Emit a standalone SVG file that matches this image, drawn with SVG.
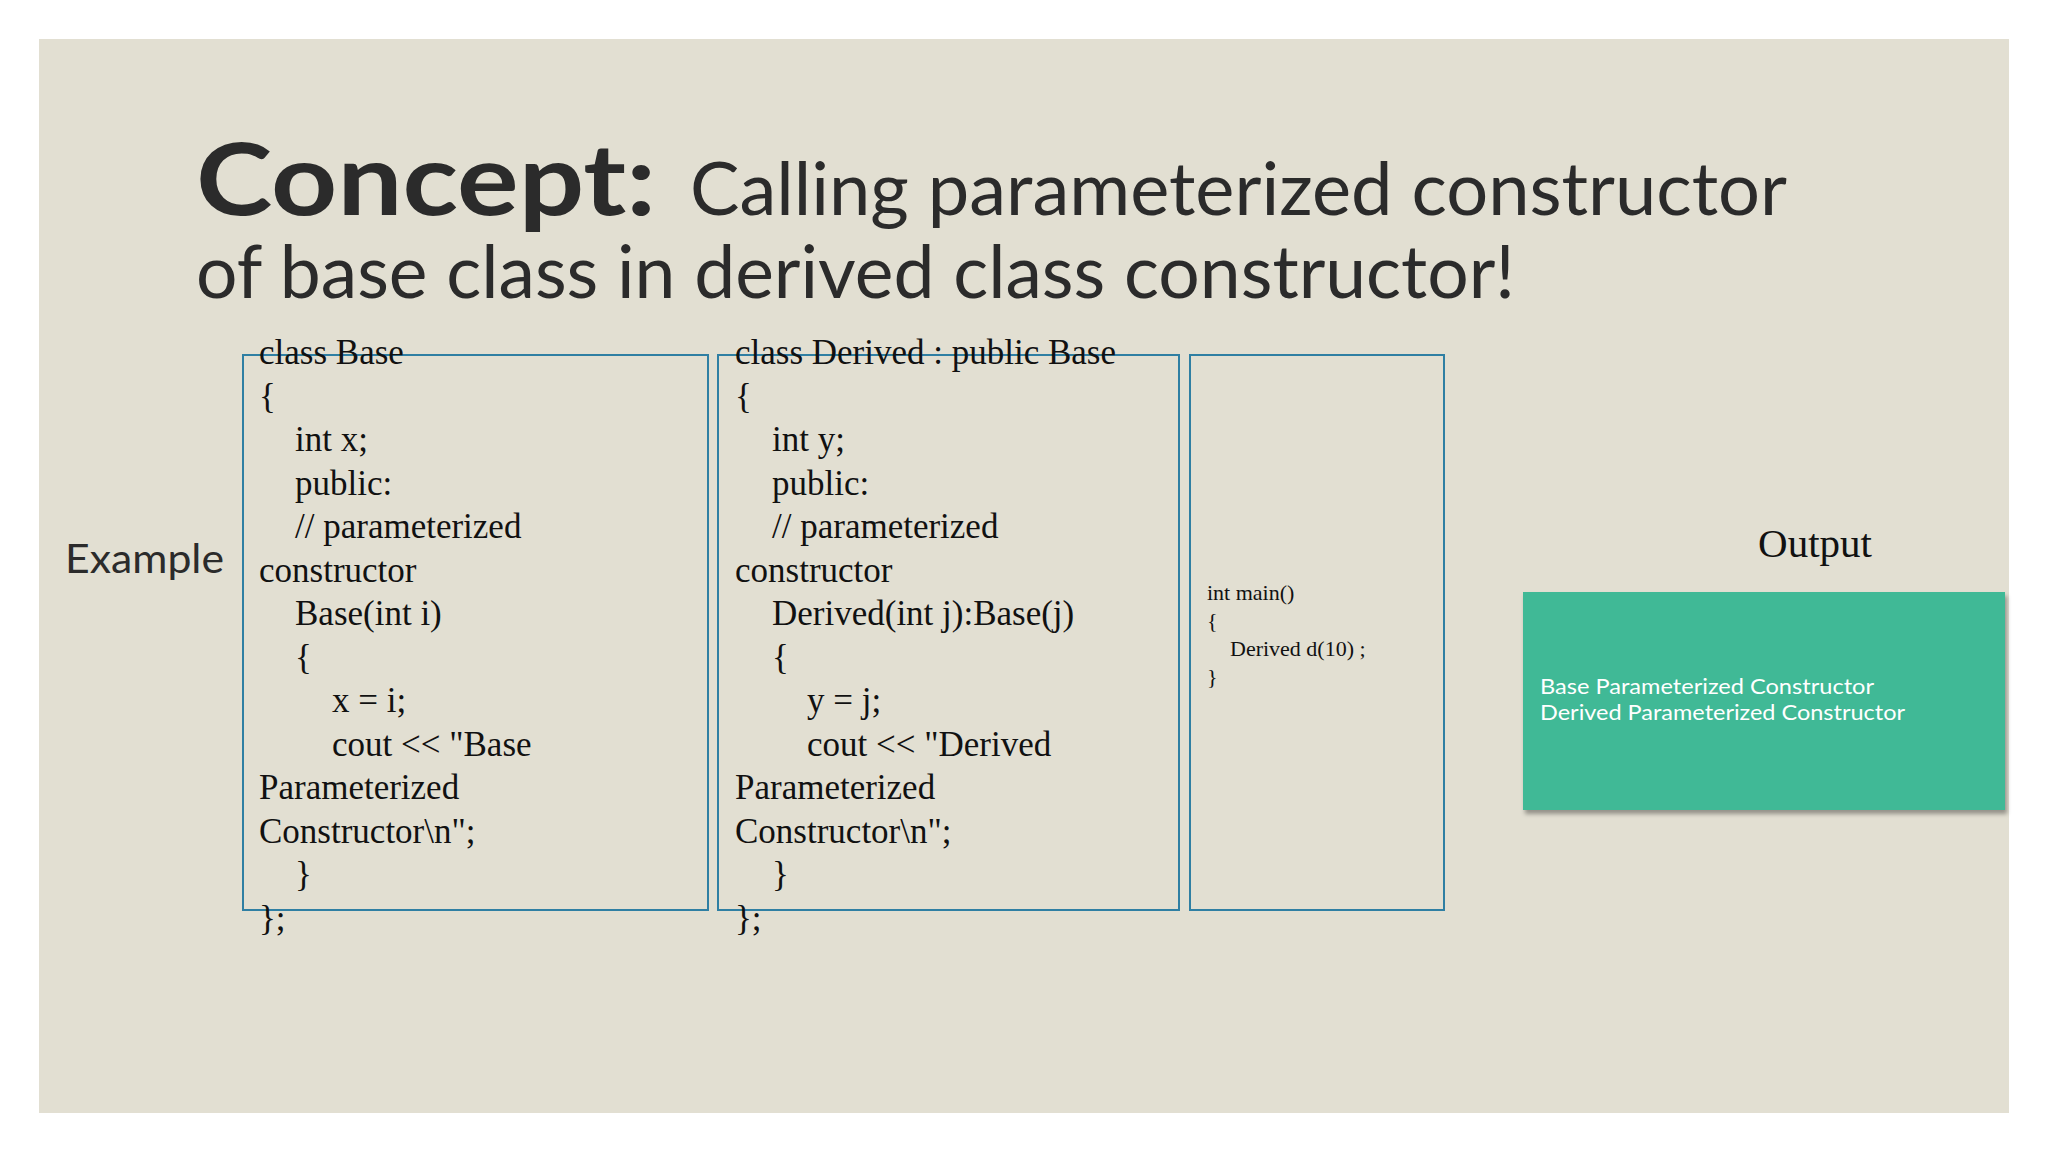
<svg xmlns="http://www.w3.org/2000/svg" width="2048" height="1152" viewBox="0 0 2048 1152">
<defs>
<style>
.code{font-family:"Liberation Serif",serif;font-size:35px;fill:#111}
.box{fill:none;stroke:#2F7FA3;stroke-width:2}
.sans{font-family:"Lato","Liberation Sans",sans-serif;fill:#2b2b2b}
</style>
<filter id="sh" x="-5%" y="-5%" width="110%" height="115%"><feDropShadow dx="2" dy="4" stdDeviation="2" flood-color="#000" flood-opacity="0.35"/></filter>
</defs>
<rect width="2048" height="1152" fill="#fff"/>
<rect x="39" y="39" width="1970" height="1074" fill="#E2DFD2"/>
<g id="title">
<text x="196" y="215" class="sans" font-size="100" font-weight="bold" textLength="460" lengthAdjust="spacingAndGlyphs">Concept:</text>
<text x="690" y="215" class="sans" font-size="74" textLength="1097" lengthAdjust="spacingAndGlyphs">Calling parameterized constructor</text>
<text x="196" y="298" class="sans" font-size="74" textLength="1319" lengthAdjust="spacingAndGlyphs">of base class in derived class constructor!</text>
</g>
<g id="example"><text x="65" y="573" class="sans" font-size="40" fill="#111" textLength="159" lengthAdjust="spacingAndGlyphs">Example</text></g>
<g id="base">
<rect class="box" x="243" y="355" width="465" height="555"/>
<text class="code" x="259" y="364">class Base</text>
<text class="code" x="259" y="408">{</text>
<text class="code" x="295" y="451">int x;</text>
<text class="code" x="295" y="495">public:</text>
<text class="code" x="295" y="538">// parameterized</text>
<text class="code" x="259" y="582">constructor</text>
<text class="code" x="295" y="625">Base(int i)</text>
<text class="code" x="295" y="669">{</text>
<text class="code" x="332" y="712">x = i;</text>
<text class="code" x="332" y="756">cout &lt;&lt; "Base</text>
<text class="code" x="259" y="799">Parameterized</text>
<text class="code" x="259" y="843">Constructor\n";</text>
<text class="code" x="295" y="886">}</text>
<text class="code" x="259" y="930">};</text>
</g>
<g id="derived">
<rect class="box" x="718" y="355" width="461" height="555"/>
<text class="code" x="735" y="364">class Derived : public Base</text>
<text class="code" x="735" y="408">{</text>
<text class="code" x="772" y="451">int y;</text>
<text class="code" x="772" y="495">public:</text>
<text class="code" x="772" y="538">// parameterized</text>
<text class="code" x="735" y="582">constructor</text>
<text class="code" x="772" y="625">Derived(int j):Base(j)</text>
<text class="code" x="772" y="669">{</text>
<text class="code" x="807" y="712">y = j;</text>
<text class="code" x="807" y="756">cout &lt;&lt; "Derived</text>
<text class="code" x="735" y="799">Parameterized</text>
<text class="code" x="735" y="843">Constructor\n";</text>
<text class="code" x="772" y="886">}</text>
<text class="code" x="735" y="930">};</text>
</g>
<g id="main">
<rect class="box" x="1190" y="355" width="254" height="555"/>
<g class="code" style="font-size:22px">
<text x="1207" y="600">int main()</text>
<text x="1207" y="628">{</text>
<text x="1230" y="656">Derived d(10) ;</text>
<text x="1207" y="684">}</text>
</g>
</g>
<g id="output">
<text x="1815" y="557" class="code" style="font-size:41px" text-anchor="middle">Output</text>
<rect x="1523" y="592" width="482" height="218" fill="#40B996" filter="url(#sh)"/>
<text x="1540" y="694" class="sans" font-size="22" style="fill:#fff" textLength="334" lengthAdjust="spacingAndGlyphs">Base Parameterized Constructor</text>
<text x="1540" y="720" class="sans" font-size="22" style="fill:#fff" textLength="365" lengthAdjust="spacingAndGlyphs">Derived Parameterized Constructor</text>
</g>
<g id="connectors"/>
</svg>
